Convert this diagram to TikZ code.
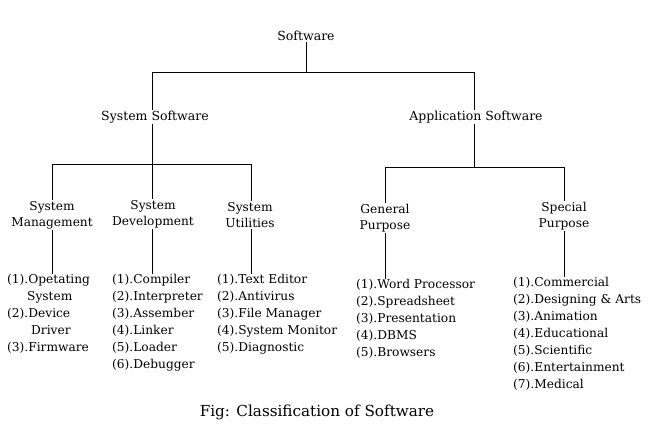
\documentclass[tikz,border=0pt]{standalone}
\usepackage{fontspec}
\setmainfont{DejaVu Serif}
\begin{document}
\begin{tikzpicture}[x=1pt,y=-1pt,
  lbl/.style={inner sep=1pt,font=\fontsize{12.5}{16}\selectfont},
  cat/.style={inner sep=1pt,align=center,font=\fontsize{12.2}{16}\selectfont},
  lst/.style={inner sep=0pt,align=left,anchor=north west,font=\fontsize{12.2}{17}\selectfont},
  conn/.style={line width=0.9pt}]
\useasboundingbox (0,0) rectangle (648,433);
% nodes
\node[lbl] (sw) at (306,36) {Software};
\node[lbl] (ss) at (155,117) {System Software};
\node[lbl] (as) at (476,117) {Application Software};
\node[cat] (sm) at (52,215) {System\\Management};
\node[cat] (sd) at (153,214) {System\\Development};
\node[cat] (su) at (250,215) {System\\Utilities};
\node[cat] (gp) at (385,218) {General\\Purpose};
\node[cat] (sp) at (564,216) {Special\\Purpose};
\node[lst] (l1) at (7,274) {(1).Opetating\\\hspace*{20pt}System\\(2).Device\\\hspace*{24pt}Driver\\(3).Firmware};
\node[lst] (l2) at (112,274) {(1).Compiler\\(2).Interpreter\\(3).Assember\\(4).Linker\\(5).Loader\\(6).Debugger};
\node[lst] (l3) at (217,274) {(1).Text Editor\\(2).Antivirus\\(3).File Manager\\(4).System Monitor\\(5).Diagnostic};
\node[lst] (l4) at (356,279) {(1).Word Processor\\(2).Spreadsheet\\(3).Presentation\\(4).DBMS\\(5).Browsers};
\node[lst] (l5) at (513,277) {(1).Commercial\\(2).Designing \& Arts\\(3).Animation\\(4).Educational\\(5).Scientific\\(6).Entertainment\\(7).Medical};
\node[inner sep=0pt,font=\fontsize{15.2}{18}\selectfont] (cap) at (317,412) {Fig: Classification of Software};
% junction coordinates
\coordinate (j0) at (306,72);
\coordinate (j0l) at (152,72);
\coordinate (j0r) at (474,72);
\coordinate (j1) at (152,164);
\coordinate (j1l) at (52,164);
\coordinate (j1m) at (152,164);
\coordinate (j1r) at (251,164);
\coordinate (j2) at (474,167);
\coordinate (j2l) at (385,167);
\coordinate (j2r) at (564,167);
% connectors
\draw[conn] (sw.south -| j0) -- (j0);
\draw[conn] (ss.north -| j0l) -- (j0l) -- (j0r) -- (as.north -| j0r);
\draw[conn] (ss.south -| j1) -- (j1);
\draw[conn] (sm.north -| j1l) -- (j1l) -- (j1r) -- (su.north -| j1r);
\draw[conn] (j1m) -- (sd.north -| j1m);
\draw[conn] (as.south -| j2) -- (j2);
\draw[conn] (gp.north -| j2l) -- (j2l) -- (j2r) -- (sp.north -| j2r);
\draw[conn] (sm.south -| j1l) -- (l1.north -| j1l);
\draw[conn] (sd.south -| j1m) -- (l2.north -| j1m);
\draw[conn] (su.south -| j1r) -- (l3.north -| j1r);
\draw[conn] (gp.south -| j2l) -- (l4.north -| j2l);
\draw[conn] (sp.south -| j2r) -- (l5.north -| j2r);
\end{tikzpicture}
\end{document}
